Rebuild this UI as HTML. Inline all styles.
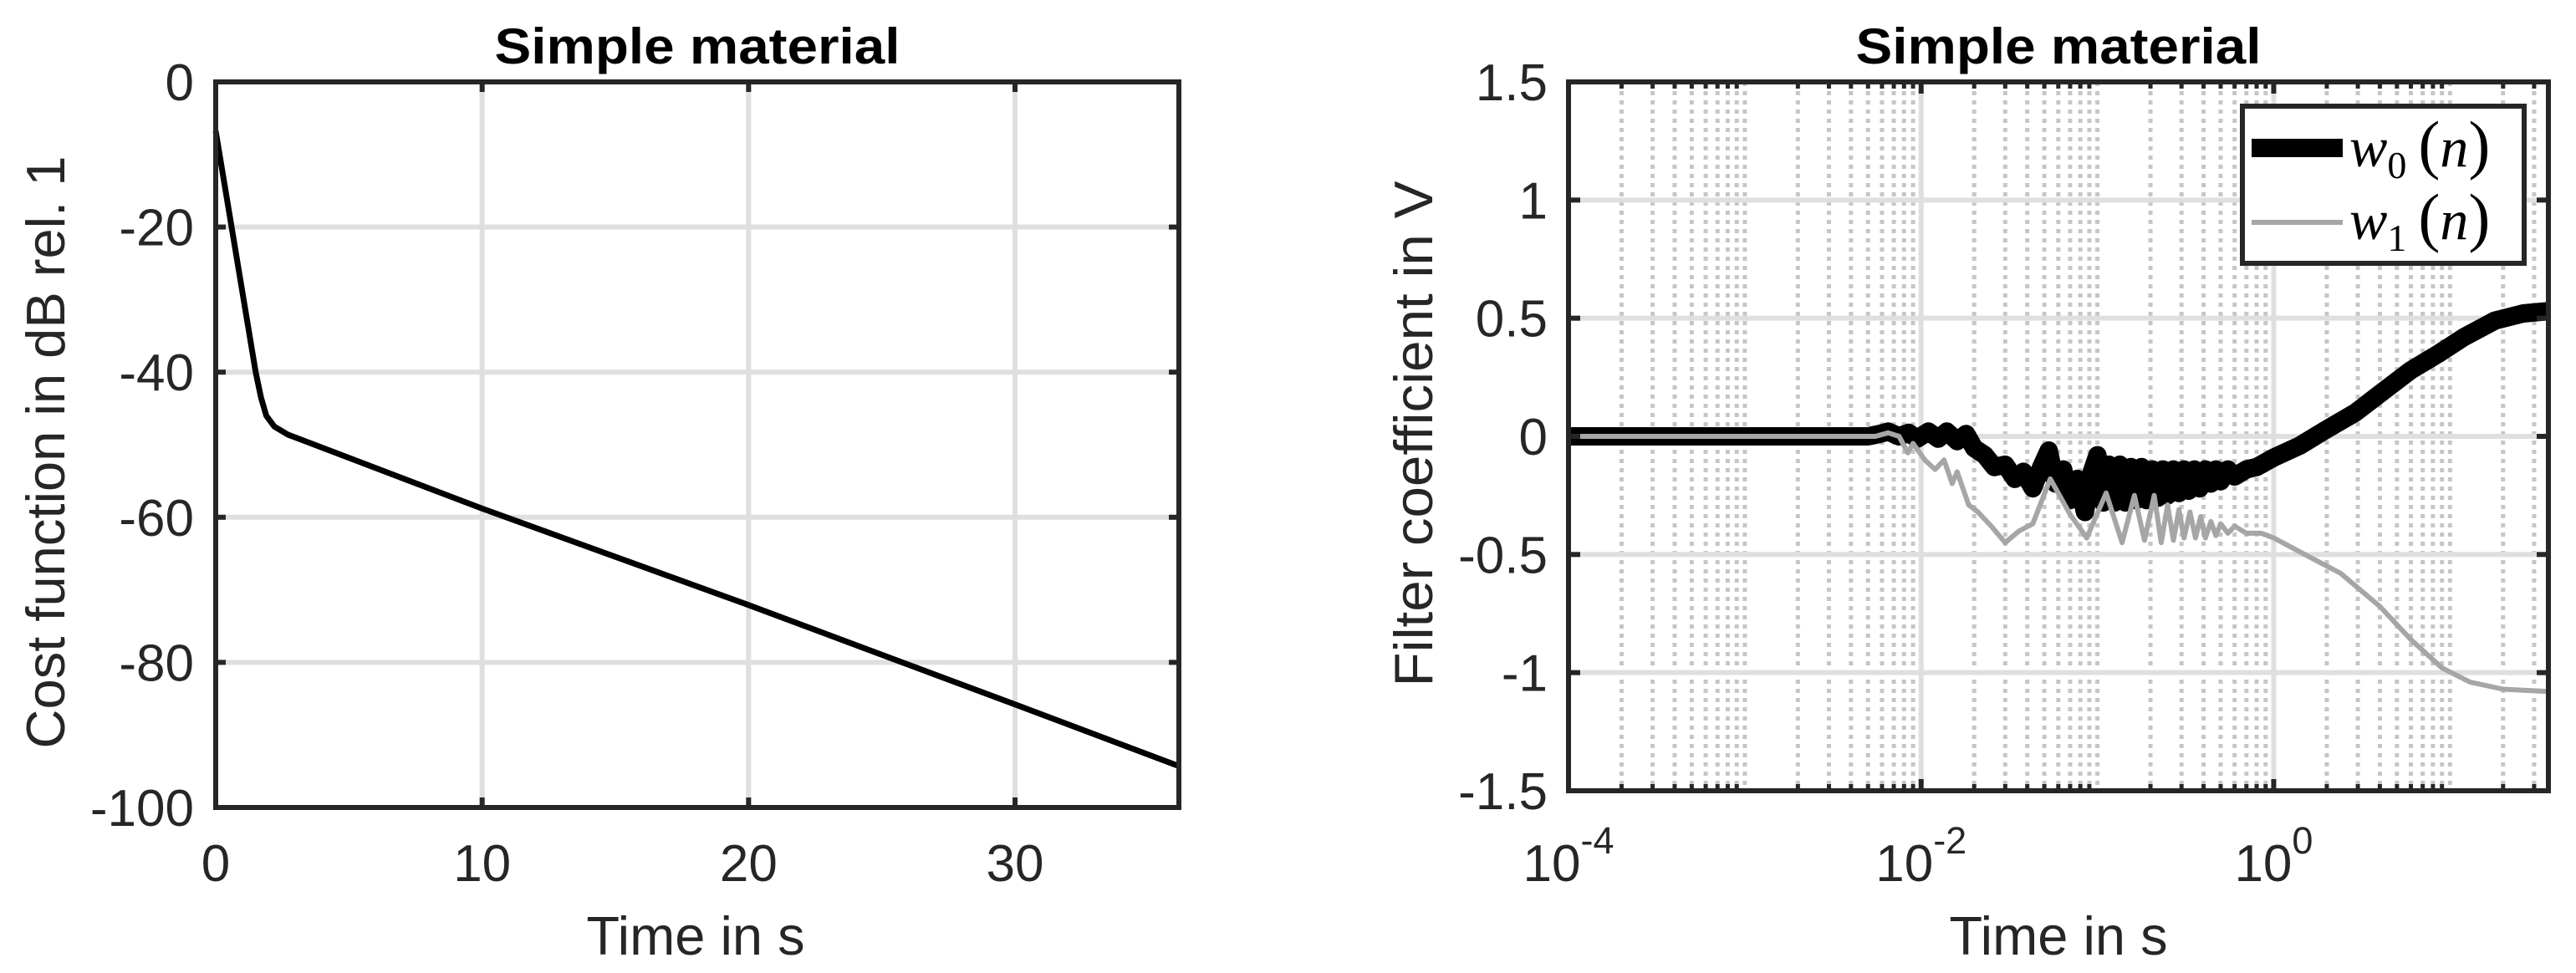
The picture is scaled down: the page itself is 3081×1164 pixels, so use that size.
<!DOCTYPE html>
<html><head><meta charset="utf-8">
<style>
html,body{margin:0;padding:0;background:#fff;}
svg{display:block;font-family:"Liberation Sans",Arial,sans-serif;}
</style></head>
<body>
<svg id="fig" width="3081" height="1164" viewBox="0 0 3081 1164" xmlns="http://www.w3.org/2000/svg">
<rect x="0" y="0" width="3081" height="1164" fill="#fff"/>
<g id="left"></g>
<g id="right"></g>
</svg>
<script>
// ---- Left chart data ----
const costTimes = [0, 1.5, 1.7, 1.9, 2.2, 2.7, 3.2, 10, 20, 30, 36.15];
const costValues = [-6.8, -40, -43.5, -46, -47.5, -48.6, -49.3, -58.8, -72.1, -85.8, -94.3];
const leftXTicks = [0, 10, 20, 30];
const leftYTicks = [0, -20, -40, -60, -80, -100];

// ---- Right chart data ----
const w0Times = [0.0001, 0.005, 0.0058, 0.0065, 0.0075, 0.0085, 0.0095, 0.011, 0.0125, 0.014, 0.016, 0.018, 0.02, 0.023, 0.026, 0.03, 0.034, 0.038, 0.043, 0.048, 0.053, 0.058, 0.064, 0.07, 0.077, 0.085, 0.093, 0.1, 0.108, 0.116, 0.125, 0.134, 0.144, 0.155, 0.166, 0.178, 0.19, 0.205, 0.22, 0.235, 0.25, 0.27, 0.29, 0.31, 0.33, 0.355, 0.38, 0.41, 0.44, 0.47, 0.5, 0.55, 0.6, 0.7, 0.8, 1, 1.4, 2, 2.9, 4, 6, 8.6, 12, 18, 26, 36.15];
const w0Values = [0.0, 0.0, 0.01, 0.02, 0.0, 0.015, -0.01, 0.02, -0.01, 0.02, -0.02, 0.01, -0.05, -0.08, -0.13, -0.12, -0.18, -0.15, -0.22, -0.13, -0.06, -0.2, -0.14, -0.27, -0.18, -0.32, -0.15, -0.08, -0.28, -0.12, -0.28, -0.12, -0.28, -0.13, -0.27, -0.13, -0.27, -0.14, -0.26, -0.14, -0.25, -0.14, -0.24, -0.14, -0.23, -0.14, -0.22, -0.14, -0.2, -0.14, -0.19, -0.14, -0.17, -0.14, -0.13, -0.09, -0.04, 0.03, 0.1, 0.18, 0.28, 0.35, 0.42, 0.49, 0.52, 0.53];
const w1Times = [0.0001, 0.0055, 0.0065, 0.0075, 0.0084, 0.009, 0.0105, 0.012, 0.0135, 0.015, 0.016, 0.0186, 0.021, 0.025, 0.03, 0.036, 0.043, 0.054, 0.07, 0.087, 0.112, 0.138, 0.162, 0.185, 0.21, 0.23, 0.25, 0.27, 0.29, 0.31, 0.335, 0.36, 0.385, 0.41, 0.44, 0.47, 0.5, 0.55, 0.6, 0.7, 0.85, 1, 1.5, 2.4, 4, 6, 9, 13, 20, 36.15];
const w1Values = [0.0, 0.0, 0.015, 0.0, -0.07, -0.03, -0.1, -0.14, -0.1, -0.2, -0.15, -0.29, -0.32, -0.38, -0.45, -0.4, -0.37, -0.18, -0.33, -0.43, -0.24, -0.45, -0.25, -0.44, -0.25, -0.45, -0.29, -0.44, -0.31, -0.43, -0.32, -0.43, -0.34, -0.43, -0.36, -0.42, -0.37, -0.41, -0.38, -0.41, -0.41, -0.43, -0.5, -0.58, -0.72, -0.86, -0.98, -1.04, -1.07, -1.08];
const rightXTickExps = [-4, -2, 0];
const rightYTicks = [1.5, 1, 0.5, 0, -0.5, -1, -1.5];
const rightYTickLabels = ["1.5", "1", "0.5", "0", "-0.5", "-1", "-1.5"];

const NS = "http://www.w3.org/2000/svg";
function mk(tag, attrs, parent){
  const e = document.createElementNS(NS, tag);
  for (const k in attrs) e.setAttribute(k, attrs[k]);
  parent.appendChild(e);
  return e;
}
const AX = "#262626", GRID = "#dfdfdf", MINOR = "#c6c6c6";

// ===== LEFT =====
(function(){
  const g = document.getElementById('left');
  const L = 258, R = 1410, T = 98, B = 966;
  const xmin = 0, xmax = 36.15, ymin = -100, ymax = 0;
  const sx = v => L + (v - xmin) / (xmax - xmin) * (R - L);
  const sy = v => B - (v - ymin) / (ymax - ymin) * (B - T);
  leftXTicks.forEach(v => {
    if (v > xmin) {
      const gl = mk('line', {x1: sx(v), x2: sx(v), y1: T, y2: B, stroke: GRID, 'stroke-width': 6}, g);
      
      
    }
  });
  leftYTicks.forEach(v => {
    if (v > ymin && v < ymax) {
      const gl = mk('line', {x1: L, x2: R, y1: sy(v), y2: sy(v), stroke: GRID, 'stroke-width': 6}, g);
      
      
    }
  });
  let d = costTimes.map((t, i) => (i ? 'L' : 'M') + sx(t).toFixed(1) + ',' + sy(costValues[i]).toFixed(1)).join(' ');
  const p = mk('path', {d: d, fill: 'none', stroke: '#000', 'stroke-width': 7, 'stroke-linejoin': 'round'}, g);
  
  
  leftXTicks.forEach(v => {
    const x = sx(v);
    mk('line', {x1: x, x2: x, y1: B, y2: B - 12, stroke: AX, 'stroke-width': 6}, g);
    mk('line', {x1: x, x2: x, y1: T, y2: T + 12, stroke: AX, 'stroke-width': 6}, g);
    const t = mk('text', {x: x, y: 1054, 'font-size': 62, fill: AX, 'text-anchor': 'middle'}, g);
    
    
    t.textContent = v;
  });
  leftYTicks.forEach(v => {
    const y = sy(v);
    mk('line', {x1: L, x2: L + 12, y1: y, y2: y, stroke: AX, 'stroke-width': 6}, g);
    mk('line', {x1: R, x2: R - 12, y1: y, y2: y, stroke: AX, 'stroke-width': 6}, g);
    const t = mk('text', {x: 232, y: y + 22, 'font-size': 62, fill: AX, 'text-anchor': 'end'}, g);
    
    
    t.textContent = v;
  });
  const box = mk('rect', {x: L, y: T, width: R - L, height: B - T, fill: 'none', stroke: AX, 'stroke-width': 6}, g);
  
  
  const tt = mk('text', {x: (L + R) / 2, y: 76, 'font-size': 60, 'font-weight': 'bold', fill: '#000', 'text-anchor': 'middle', textLength: 485, lengthAdjust: 'spacingAndGlyphs'}, g);
  
  
  tt.textContent = 'Simple material';
  const xl = mk('text', {x: 832, y: 1142, 'font-size': 65, fill: AX, 'text-anchor': 'middle'}, g);
  
  
  xl.textContent = 'Time in s';
  const yl = mk('text', {x: 0, y: 0, 'font-size': 65, fill: AX, 'text-anchor': 'middle', transform: 'translate(77,541) rotate(-90)', textLength: 709, lengthAdjust: 'spacingAndGlyphs'}, g);
  
  
  yl.textContent = 'Cost function in dB rel. 1';
})();

// ===== RIGHT =====
(function(){
  const g = document.getElementById('right');
  const L = 1876, R = 3048, T = 98, B = 946;
  const lmin = -4, lmax = Math.log10(36.15), ymin = -1.5, ymax = 1.5;
  const sx = v => L + (Math.log10(v) - lmin) / (lmax - lmin) * (R - L);
  const sy = v => B - (v - ymin) / (ymax - ymin) * (B - T);
  for (let e = -4; e <= 1; e++) {
    for (let m = 2; m <= 9; m++) {
      const v = m * Math.pow(10, e);
      const x = sx(v);
      if (x > R - 2) continue;
      const gl = mk('line', {x1: x, x2: x, y1: T, y2: B, stroke: MINOR, 'stroke-width': 5, 'stroke-dasharray': '5 6'}, g);
      
      
      mk('line', {x1: x, x2: x, y1: B, y2: B - 8, stroke: AX, 'stroke-width': 5}, g);
      mk('line', {x1: x, x2: x, y1: T, y2: T + 8, stroke: AX, 'stroke-width': 5}, g);
    }
  }
  [-3, -2, -1, 0, 1].forEach(e => {
    const x = sx(Math.pow(10, e));
    const gl = mk('line', {x1: x, x2: x, y1: T, y2: B, stroke: (e % 2 === 0) ? GRID : MINOR, 'stroke-width': (e % 2 === 0) ? 6 : 5, 'stroke-dasharray': (e % 2 === 0) ? 'none' : '5 6'}, g);
    
    
  });
  rightYTicks.forEach(v => {
    if (v > ymin && v < ymax) {
      const gl = mk('line', {x1: L, x2: R, y1: sy(v), y2: sy(v), stroke: GRID, 'stroke-width': 6}, g);
      
      
    }
  });
  const path = (ts, vs) => ts.map((t, i) => (i ? 'L' : 'M') + sx(t).toFixed(1) + ',' + sy(vs[i]).toFixed(1)).join(' ');
  const p0 = mk('path', {d: path(w0Times, w0Values), fill: 'none', stroke: '#000', 'stroke-width': 22, 'stroke-linejoin': 'round'}, g);
  
  
  const p1 = mk('path', {d: path(w1Times, w1Values), fill: 'none', stroke: '#a6a6a6', 'stroke-width': 6, 'stroke-linejoin': 'round'}, g);
  
  
  rightXTickExps.forEach(e => {
    const x = sx(Math.pow(10, e));
    mk('line', {x1: x, x2: x, y1: B, y2: B - 14, stroke: AX, 'stroke-width': 6}, g);
    mk('line', {x1: x, x2: x, y1: T, y2: T + 14, stroke: AX, 'stroke-width': 6}, g);
    const t = mk('text', {x: x, y: 1054, 'font-size': 62, fill: AX, 'text-anchor': 'middle'}, g);
    
    
    const b = mk('tspan', {}, t); b.textContent = '10';
    const s = mk('tspan', {dy: -33, 'font-size': 45}, t); s.textContent = String(e);
  });
  rightYTicks.forEach((v, i) => {
    const y = sy(v);
    mk('line', {x1: L, x2: L + 14, y1: y, y2: y, stroke: AX, 'stroke-width': 6}, g);
    mk('line', {x1: R, x2: R - 14, y1: y, y2: y, stroke: AX, 'stroke-width': 6}, g);
    const t = mk('text', {x: 1851, y: y + 22, 'font-size': 62, fill: AX, 'text-anchor': 'end'}, g);
    
    
    t.textContent = rightYTickLabels[i];
  });
  const box = mk('rect', {x: L, y: T, width: R - L, height: B - T, fill: 'none', stroke: AX, 'stroke-width': 6}, g);
  
  
  const tt = mk('text', {x: (L + R) / 2, y: 76, 'font-size': 60, 'font-weight': 'bold', fill: '#000', 'text-anchor': 'middle', textLength: 485, lengthAdjust: 'spacingAndGlyphs'}, g);
  
  
  tt.textContent = 'Simple material';
  const xl = mk('text', {x: (L + R) / 2, y: 1142, 'font-size': 65, fill: AX, 'text-anchor': 'middle'}, g);
  
  
  xl.textContent = 'Time in s';
  const yl = mk('text', {x: 0, y: 0, 'font-size': 65, fill: AX, 'text-anchor': 'middle', transform: 'translate(1713,519) rotate(-90)', textLength: 605, lengthAdjust: 'spacingAndGlyphs'}, g);
  
  
  yl.textContent = 'Filter coefficient in V';
  const lg = mk('g', {}, g);
  
  
  mk('rect', {x: 2682, y: 127, width: 337, height: 188, fill: '#fff', stroke: AX, 'stroke-width': 6}, lg);
  const rows = [{y: 177, c: '#000', w: 22, sub: '0', base: 199, name: 'legend-entry-w0'}, {y: 266, c: '#a6a6a6', w: 6, sub: '1', base: 286, name: 'legend-entry-w1'}];
  rows.forEach(r => {
    const eg = mk('g', {}, lg);
    
    
    mk('line', {x1: 2693, x2: 2802, y1: r.y, y2: r.y, stroke: r.c, 'stroke-width': r.w}, eg);
    const t = mk('text', {x: 2810, y: r.base, 'font-family': '"Liberation Serif", serif', 'font-size': 68, fill: '#000'}, eg);
    const a = mk('tspan', {'font-style': 'italic'}, t); a.textContent = 'w';
    const b = mk('tspan', {'font-size': 46, dy: 14}, t); b.textContent = r.sub;
    const c = mk('tspan', {dy: -14, dx: 14, 'font-size': 78}, t); c.textContent = '(';
    const d2 = mk('tspan', {'font-style': 'italic'}, t); d2.textContent = 'n';
    const e2 = mk('tspan', {'font-size': 78}, t); e2.textContent = ')';
  });
})();
</script>
</body></html>
